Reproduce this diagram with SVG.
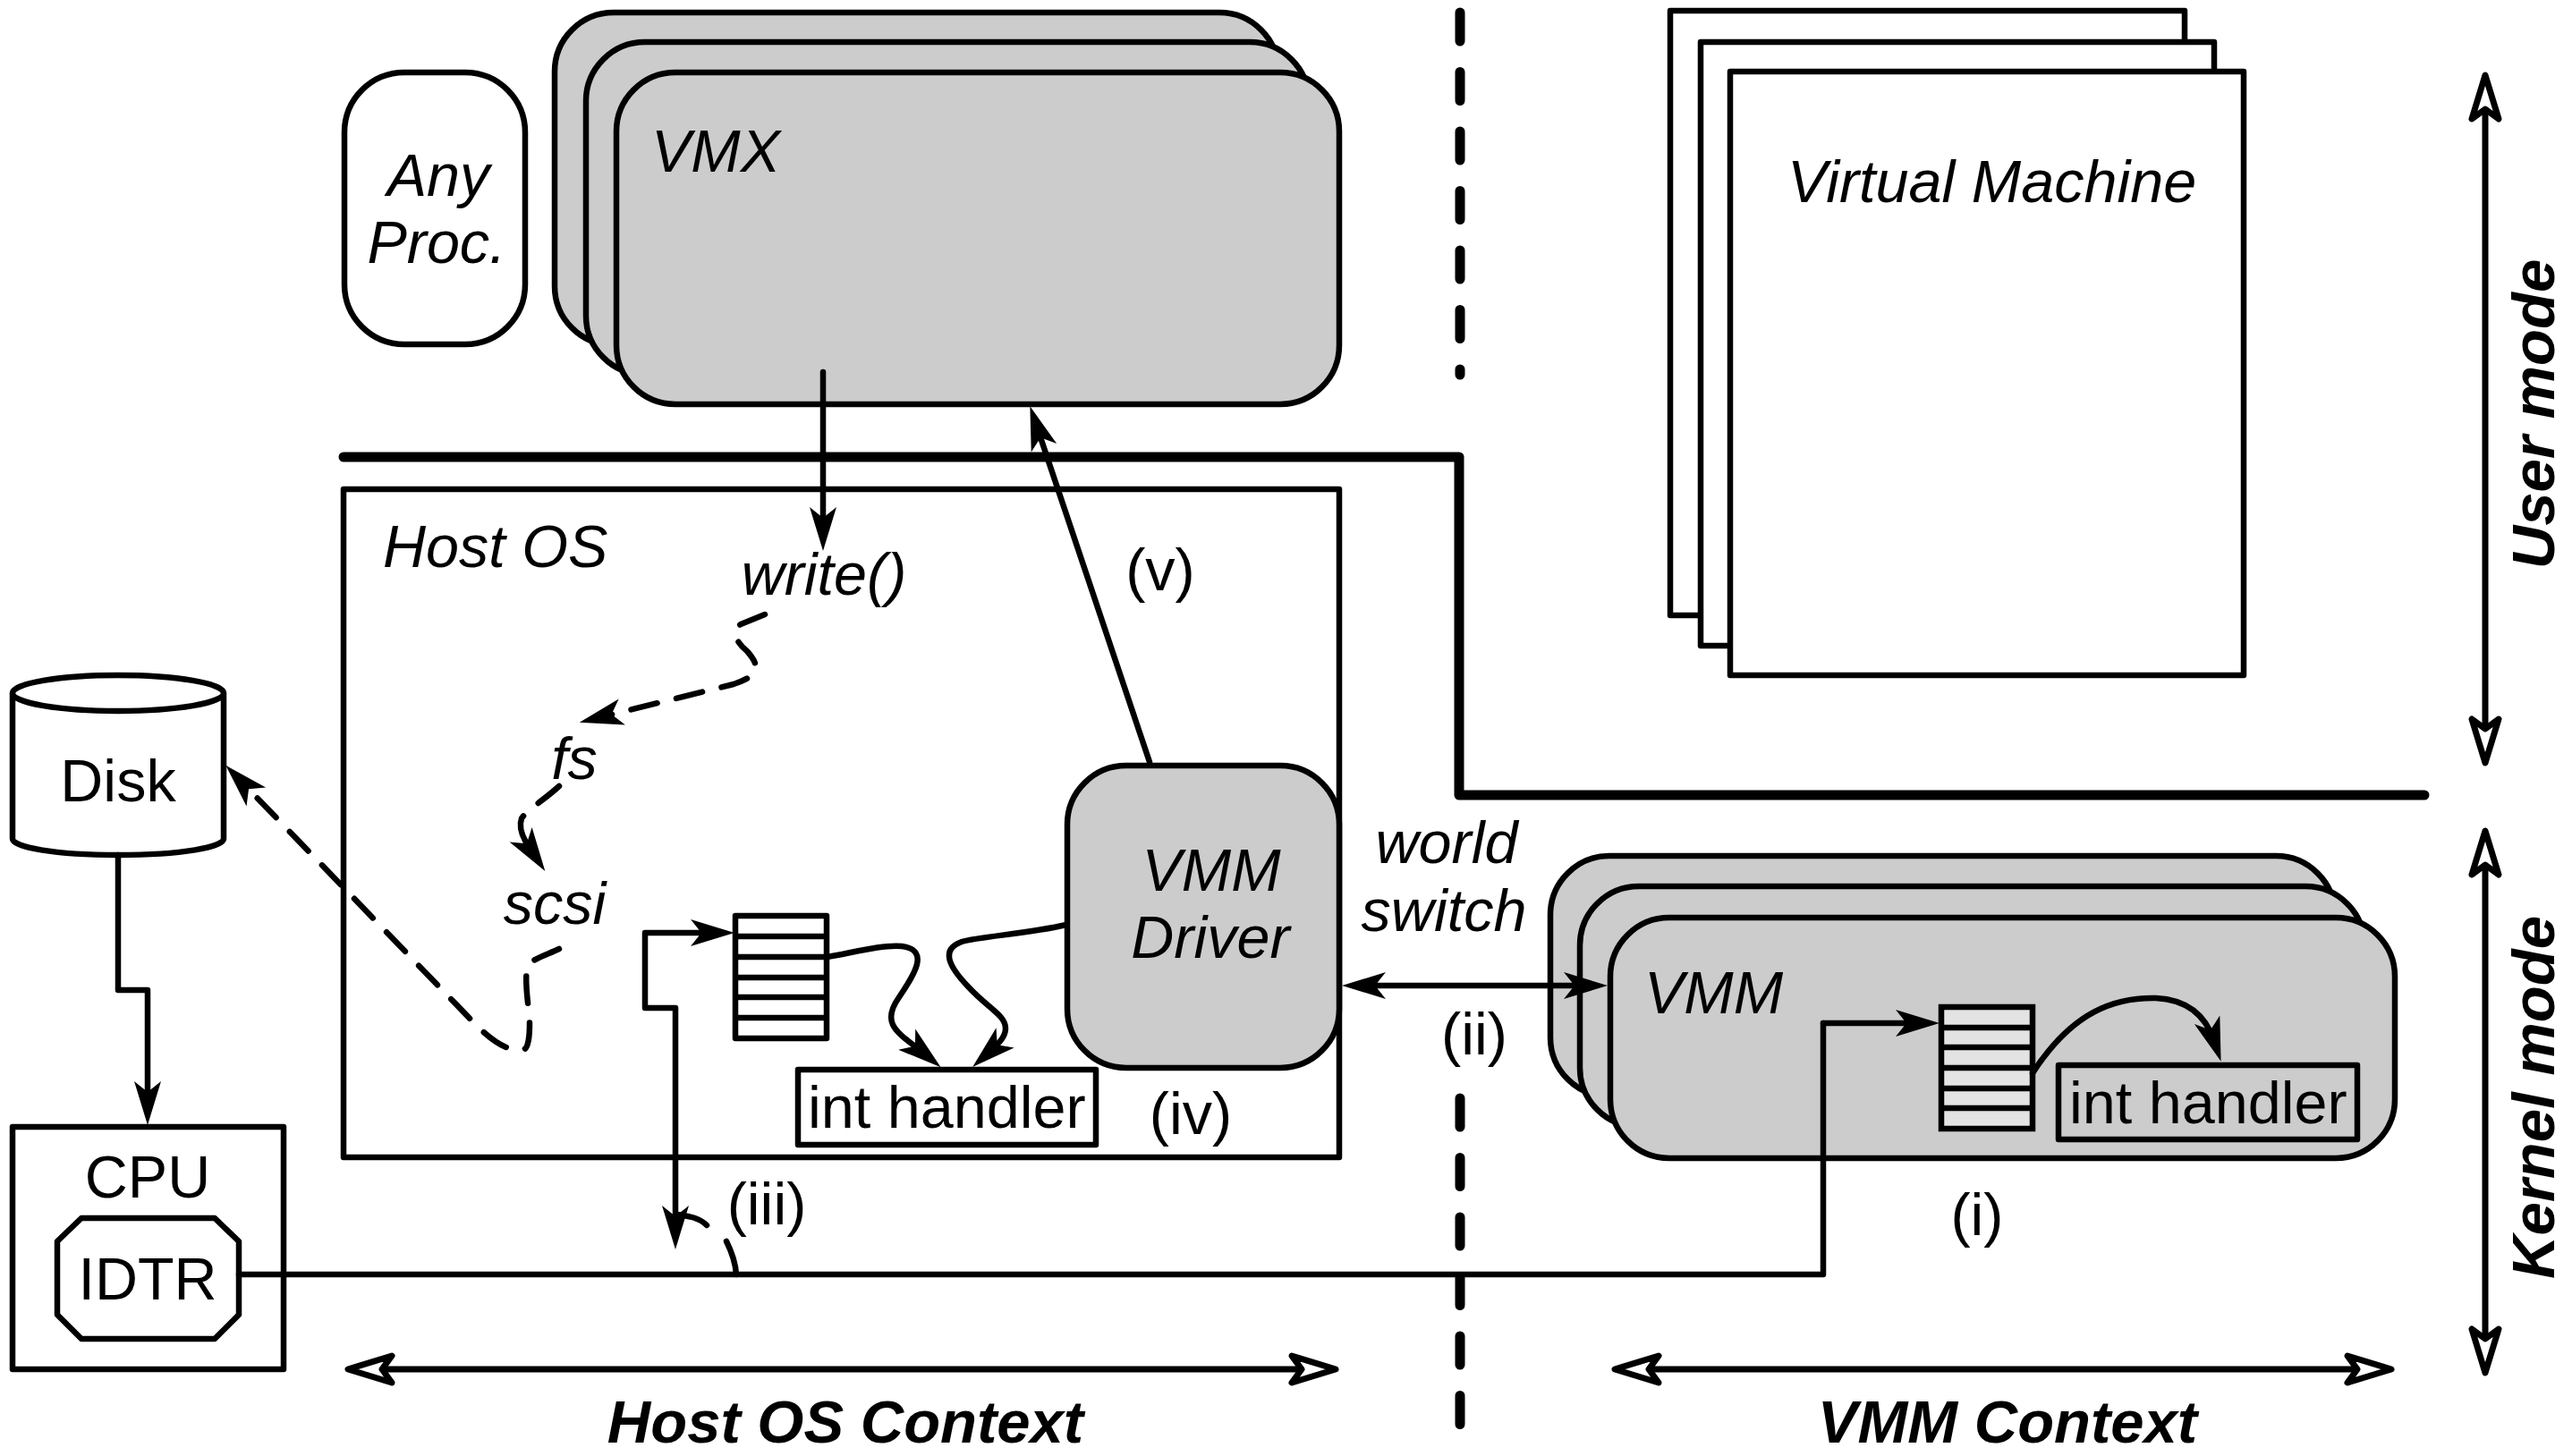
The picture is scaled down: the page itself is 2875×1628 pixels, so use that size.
<svg xmlns="http://www.w3.org/2000/svg" width="2875" height="1628" viewBox="0 0 2875 1628">
<style>
text{font-family:"Liberation Sans",Arial,sans-serif;font-size:66.5px;fill:#000}
.i{font-style:italic}
.b{font-style:italic;font-weight:bold;font-size:67px}
.m{text-anchor:middle}
.box{fill:#fff;stroke:#000;stroke-width:6.5;stroke-linejoin:round}
.gray{fill:#ccc;stroke:#000;stroke-width:6.5}
.none{fill:none;stroke:#000;stroke-width:6.5;stroke-linejoin:round}
.row{stroke:#000;stroke-width:6.5}
.c{fill:none;stroke:#000;stroke-width:6.5;stroke-linecap:round;stroke-linejoin:round}
.solid{marker-end:url(#a)}
.dash{stroke-dasharray:30 22;marker-end:url(#a)}
.both{marker-start:url(#a);marker-end:url(#a)}
.open{marker-start:url(#o);marker-end:url(#o);stroke-width:7}
.heavy{fill:none;stroke:#000;stroke-width:11;stroke-linecap:round;stroke-linejoin:round}
.sep{fill:none;stroke:#000;stroke-width:11;stroke-linecap:round;stroke-dasharray:32 34.5}
</style>
<defs>
<marker id="a" markerUnits="userSpaceOnUse" markerWidth="50" markerHeight="32" refX="25" refY="16" orient="auto-start-reverse" overflow="visible">
<path d="M49 16L0 1L12 16L0 31Z" fill="#000"/>
</marker>
<marker id="o" markerUnits="userSpaceOnUse" markerWidth="60" markerHeight="44" refX="12" refY="20" orient="auto-start-reverse" overflow="visible">
<path d="M50 20L1 5L12 20L1 35Z" fill="#fff" stroke="#000" stroke-width="7" stroke-linejoin="round"/>
</marker>
</defs>

<g id="any-proc">
<rect class="box" x="385" y="81" width="202" height="304" rx="67" ry="67"/>
<text class="i m" x="490" y="219">Any</text>
<text class="i m" x="488" y="294">Proc.</text>
</g>
<g id="vmx">
<rect class="gray" x="620" y="14" width="809" height="372" rx="66" ry="66"/>
<rect class="gray" x="655" y="47" width="808" height="372" rx="66" ry="66"/>
<rect class="gray" x="689" y="81" width="808" height="371" rx="66" ry="66"/>
<text class="i" x="728" y="192">VMX</text>
</g>
<g id="virtual-machine">
<rect class="box" x="1867" y="12" width="575" height="676"/>
<rect class="box" x="1901" y="47" width="574" height="675"/>
<rect class="box" x="1934" y="80" width="574" height="675"/>
<text class="i" x="1998" y="226">Virtual Machine</text>
</g>
<g id="boundaries">
<path class="heavy" d="M384 511H1631V889H2710"/>
<path class="sep" d="M1632 14V419"/>
<path class="sep" d="M1632 1228V1595"/>
</g>
<g id="host-os">
<rect class="none" x="384" y="547" width="1113" height="747"/>
<text class="i" x="428" y="634">Host OS</text>
<text class="i m" x="921" y="665">write()</text>
<text class="i m" x="642" y="871">fs</text>
<text class="i m" x="620" y="1033">scsi</text>
</g>
<g id="vmm-driver">
<rect class="gray" x="1193" y="856" width="304" height="338" rx="66" ry="66"/>
<text class="i m" x="1354" y="996">VMM</text>
<text class="i m" x="1353" y="1071">Driver</text>
</g>
<g id="host-queue">
<rect class="box" x="822" y="1024" width="102" height="137"/>
<path class="row" d="M822 1047H924M822 1070H924M822 1093H924M822 1115H924M822 1138H924"/>
</g>
<g id="host-int-handler">
<rect class="box" x="892" y="1196" width="333" height="84"/>
<text x="903" y="1261">int handler</text>
</g>
<g id="disk">
<path class="box" d="M14 775V938C14 947 60 956 132 956C204 956 250 947 250 938V775"/>
<ellipse class="box" cx="132" cy="775" rx="118" ry="20"/>
<text class="m" x="132" y="896">Disk</text>
</g>
<g id="cpu">
<rect class="box" x="14" y="1260" width="303" height="271"/>
<text class="m" x="165" y="1339">CPU</text>
</g>
<g id="idtr">
<path class="box" d="M91 1362H240L267 1388V1470L240 1497H91L64 1470V1388Z"/>
<text class="m" x="165" y="1453">IDTR</text>
</g>
<g id="vmm">
<rect class="gray" x="1733" y="957" width="877" height="269" rx="66" ry="66"/>
<rect class="gray" x="1766" y="991" width="877" height="269" rx="66" ry="66"/>
<rect class="gray" x="1800" y="1026" width="877" height="269" rx="66" ry="66"/>
<text class="i" x="1838" y="1133">VMM</text>
</g>
<g id="vmm-queue">
<rect x="2170" y="1126" width="102" height="136" fill="#e3e3e3" stroke="#000" stroke-width="6.5"/>
<path class="row" d="M2170 1149H2272M2170 1171H2272M2170 1194H2272M2170 1217H2272M2170 1239H2272"/>
</g>
<g id="vmm-int-handler">
<rect class="none" x="2301" y="1191" width="334" height="83"/>
<text x="2313" y="1256">int handler</text>
</g>
<g id="connectors">
<path class="c solid" d="M920 416V592"/>
<path class="c solid" d="M1285 852L1159 477"/>
<path class="c dash" d="M855 687L828 698C815 705 825 720 835 728C850 745 850 755 820 765L671 802"/>
<path class="c dash" d="M625 879C610 893 590 905 583 915C578 930 590 945 596 954"/>
<path class="c dash" d="M625 1061C610 1068 595 1072 590 1080C585 1095 592 1130 592 1145C592 1160 590 1172 586 1173C578 1174 565 1178 533 1147L269 873"/>
<path class="c solid" d="M132 956V1107H165V1234"/>
<path class="c both" d="M755 1373V1127H721V1043H797"/>
<path class="c solid" d="M924 1070C950 1066 985 1056 1008 1058C1040 1062 1022 1090 1005 1115C983 1146 1005 1155 1033 1178"/>
<path class="c solid" d="M1192 1034C1150 1044 1095 1047 1075 1053C1050 1062 1062 1082 1082 1103C1105 1128 1124 1135 1124 1150C1124 1160 1115 1168 1105 1177"/>
<path class="c" d="M267 1425H2038V1144"/>
<path class="c solid" d="M2038 1144H2144"/>
<path class="c solid" d="M2272 1200C2317 1130 2365 1115 2410 1116C2450 1118 2467 1140 2475 1164"/>
<path class="c" d="M823 1425C822 1410 818 1400 812 1388"/>
<path class="c" d="M790 1370C782 1362 772 1360 757 1358"/>
<path class="c both" d="M1524 1102H1773"/>
<path class="c open" d="M427 1531H1455"/>
<path class="c open" d="M1843 1531H2635"/>
<path class="c open" d="M2778 122V815"/>
<path class="c open" d="M2778 967V1497"/>
</g>
<g id="labels">
<text class="i m" x="1617" y="965">world</text>
<text class="i m" x="1614" y="1041">switch</text>
<text class="m" x="1648" y="1179">(ii)</text>
<text class="m" x="2210" y="1381">(i)</text>
<text class="m" x="857" y="1369">(iii)</text>
<text class="m" x="1331" y="1268">(iv)</text>
<text class="m" x="1297" y="660">(v)</text>
<text class="b m" x="945" y="1613">Host OS Context</text>
<text class="b m" x="2244" y="1613">VMM Context</text>
<text class="b m" transform="translate(2855 463) rotate(-90)">User mode</text>
<text class="b m" transform="translate(2855 1227) rotate(-90)">Kernel mode</text>
</g>
</svg>
